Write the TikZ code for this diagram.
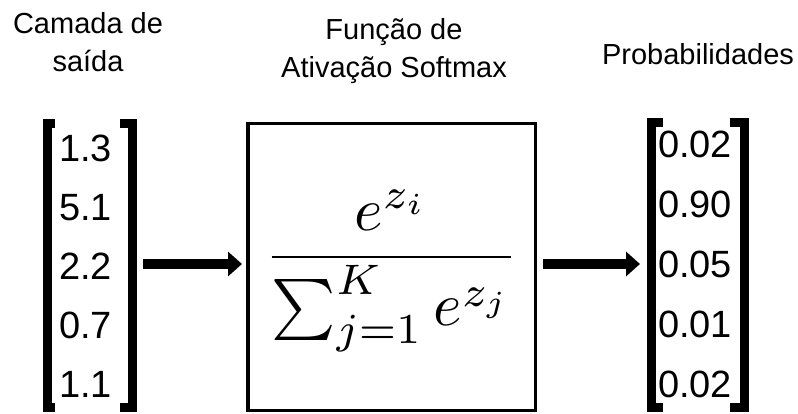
\documentclass[tikz,border=0pt]{standalone}
\usepackage[no-math]{fontspec}
\setmainfont{Liberation Sans}
\usetikzlibrary{arrows.meta}
\begin{document}
\begin{tikzpicture}[x=1pt,y=-1pt,
  title/.style={font=\fontsize{29}{38.5}\selectfont, align=center, inner sep=0pt, anchor=base},
  num/.style={font=\fontsize{38}{46}\selectfont, inner sep=0pt, anchor=base},
  brk/.style={line width=9pt, line join=miter, line cap=butt},
  conn/.style={line width=10pt, -{Triangle[length=14pt,width=24pt]}},
  vec/.style={inner sep=0pt, outer sep=0pt, minimum width=#1, minimum height=293pt},
]
\fill[white] (0,0) rectangle (798,414);
\useasboundingbox (0,0) rectangle (798,414);

% titles (anchor = baseline of the last line)
\node[title] (t1) at (88,72) {Camada de\\saída};
\node[title] (t2) at (394,78) {Função de\\Ativação Softmax};
\node[title] (t3) at (698,65) {Probabilidades};

% left vector
\node[vec=94.5pt] (lvec) at (89.75,265.5) {};
\foreach \v [count=\i from 0] in {1.3,5.1,2.2,0.7,1.1}
  \node[num] (l\i) at (85.5,162+58.75*\i) {\v};
\draw[brk] (55,123.5) -- (47,123.5) -- (47,407.5) -- (55,407.5);
\draw[brk] (120,123.5) -- (132.5,123.5) -- (132.5,407.5) -- (120,407.5);

% softmax box
\node[draw, line width=3.5pt, minimum width=287.5pt, minimum height=286.5pt, inner sep=0pt] (box) at (391.5,267) {};
\node[scale=6.1, inner sep=0pt, anchor=base] (f) at (391.5,272.25)
  {$\displaystyle\frac{e^{z_i}}{\sum_{j=1}^{K} e^{z_j}}$};

% right vector
\node[vec=102pt] (rvec) at (697.5,265) {};
\foreach \v [count=\i from 0] in {0.02,0.90,0.05,0.01,0.02}
  \node[num] (r\i) at (695,158+59.75*\i) {\v};
\draw[brk] (663,123) -- (651,123) -- (651,407.5) -- (663,407.5);
\draw[brk] (730,123) -- (744,123) -- (744,407.5) -- (730,407.5);

% connectors
\coordinate (ay) at (0,264);
\draw[conn, shorten <=6pt, shorten >=4pt] (lvec.east |- ay) -- (box.west |- ay);
\draw[conn, shorten <=6pt, shorten >=6.5pt] (box.east |- ay) -- (rvec.west |- ay);
\end{tikzpicture}
\end{document}
